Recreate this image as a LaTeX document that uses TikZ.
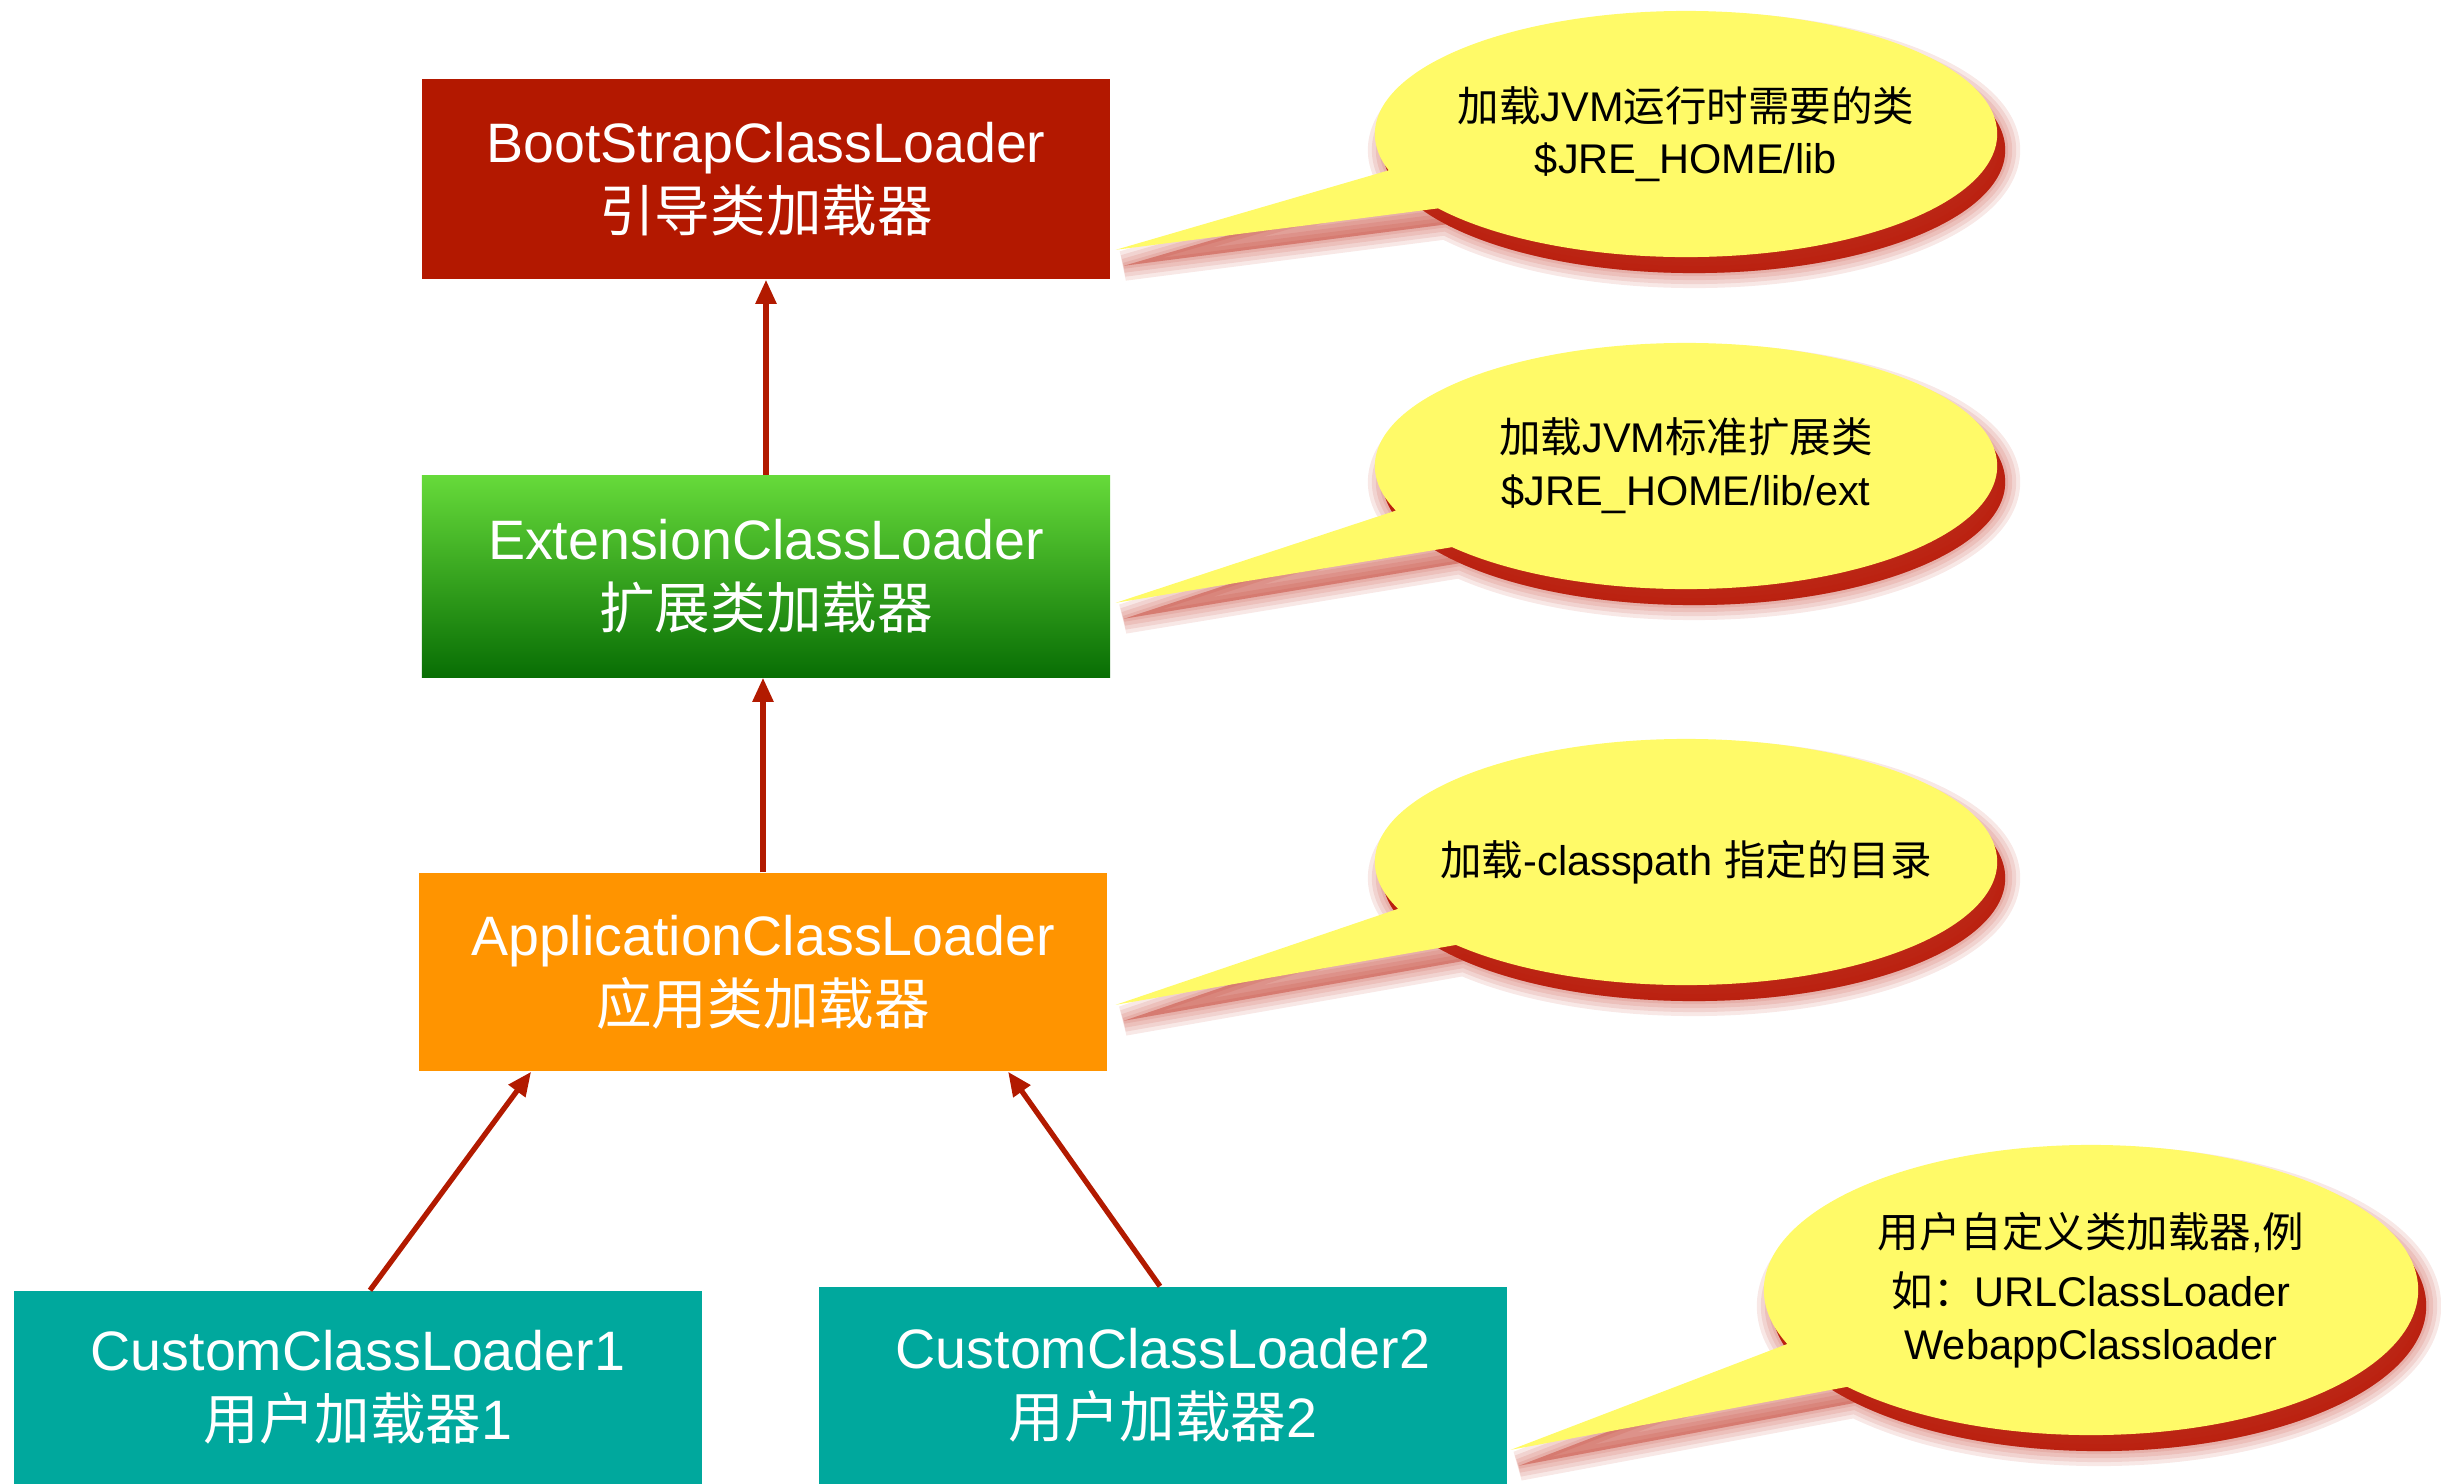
\documentclass[tikz,border=0pt]{standalone}
\usepackage{fontspec}
\setmainfont{Liberation Sans}
\newfontfamily\cjk{Noto Sans CJK SC}
\usetikzlibrary{shapes.callouts,shapes.geometric,arrows.meta,calc}
\definecolor{bootred}{RGB}{179,24,0}
\definecolor{extA}{RGB}{102,218,58}
\definecolor{extB}{RGB}{8,110,4}
\definecolor{apporange}{RGB}{255,148,0}
\definecolor{custteal}{RGB}{0,168,157}
\definecolor{arrowred}{RGB}{178,26,0}
\definecolor{bubyellow}{RGB}{255,250,104}
\definecolor{shadred}{RGB}{184,26,8}
\newcommand\speechbubble[6]{%
  % #1 name, #2 centre, #3 width, #4 height, #5 tip coordinate name, #6 text
  \foreach \lw in {30,22,14,6}{%
    \node[bubble, draw=shadred, fill=shadred, line width=\lw*0.01cm, opacity=0.1,
      minimum width=#3, minimum height=#4,
      callout absolute pointer={($(#5)+(8,16)$)}] at ($(#2)+(8,16)$) {};
  }
  \node[ellipse, inner sep=0pt, fill=shadred, opacity=0.92,
    minimum width=#3, minimum height=#4] at ($(#2)+(8,16)$) {};
  \node[bubble, fill=bubyellow,
    minimum width=#3, minimum height=#4,
    callout absolute pointer={(#5)}] (#1) at (#2) {#6};
}
\begin{document}
\begin{tikzpicture}[x=0.01cm,y=-0.01cm,
  loader/.style={rectangle, inner sep=0pt, minimum width=6.88cm, text=white,
    align=center, font=\fontsize{15.8}{19.5}\selectfont},
  dep/.style={draw=arrowred, line width=1.5pt,
    -{Triangle[width=0.2cm,length=0.24cm]}},
  bubble/.style={ellipse callout, inner ysep=0pt, inner xsep=-1cm,
    callout pointer arc=20,
    align=center, font=\fontsize{11.8}{15}\selectfont},
]
\useasboundingbox (0,0) rectangle (2441,1484);

\node[loader, fill=bootred, minimum height=2cm] (boot) at (766,179)
  {BootStrapClassLoader\\{\cjk 引导类加载器}};
\node[loader, top color=extA, bottom color=extB, minimum height=2.01cm] (ext) at (766,576.5)
  {ExtensionClassLoader\\{\cjk 扩展类加载器}};
\node[loader, fill=apporange, minimum height=1.98cm] (app) at (763,972)
  {ApplicationClassLoader\\{\cjk 应用类加载器}};
\node[loader, fill=custteal, minimum height=1.93cm] (cust1) at (358,1387.5)
  {CustomClassLoader1\\{\cjk 用户加载器}1};
\node[loader, fill=custteal, minimum height=1.97cm] (cust2) at (1163,1385.5)
  {CustomClassLoader2\\{\cjk 用户加载器}2};

\draw[dep] (ext.north) -- (boot.south);
\draw[dep] (app.north) -- (app.north |- ext.south);
\draw[dep] ($(cust1.north)+(12,0)$) -- ($(app.south west)+(113,0)$);
\draw[dep] ($(cust2.north)+(-3,0)$) -- ($(app.south west)+(590,0)$);

\coordinate (tip1) at ($(boot.south east)+(5,-30)$);
\coordinate (tip2) at ($(ext.south east)+(5,-75)$);
\coordinate (tip3) at ($(app.south east)+(8,-67)$);
\coordinate (tip4) at ($(cust2.south east)+(3,-35)$);

\speechbubble{note1}{1686,134}{6.22cm}{2.46cm}{tip1}
  {{\cjk 加载}JVM{\cjk 运行时需要的类}\\\$JRE\_HOME/lib}
\speechbubble{note2}{1686,466}{6.22cm}{2.46cm}{tip2}
  {{\cjk 加载}JVM{\cjk 标准扩展类}\\\$JRE\_HOME/lib/ext}
\speechbubble{note3}{1686,862}{6.22cm}{2.46cm}{tip3}
  {{\cjk 加载}-classpath {\cjk 指定的目录}}
\speechbubble{note4}{2091,1290}{6.54cm}{2.9cm}{tip4}
  {{\cjk 用户自定义类加载器},{\cjk 例}\\[2pt]{\cjk 如：}URLClassLoader\\WebappClassloader}
\end{tikzpicture}
\end{document}
